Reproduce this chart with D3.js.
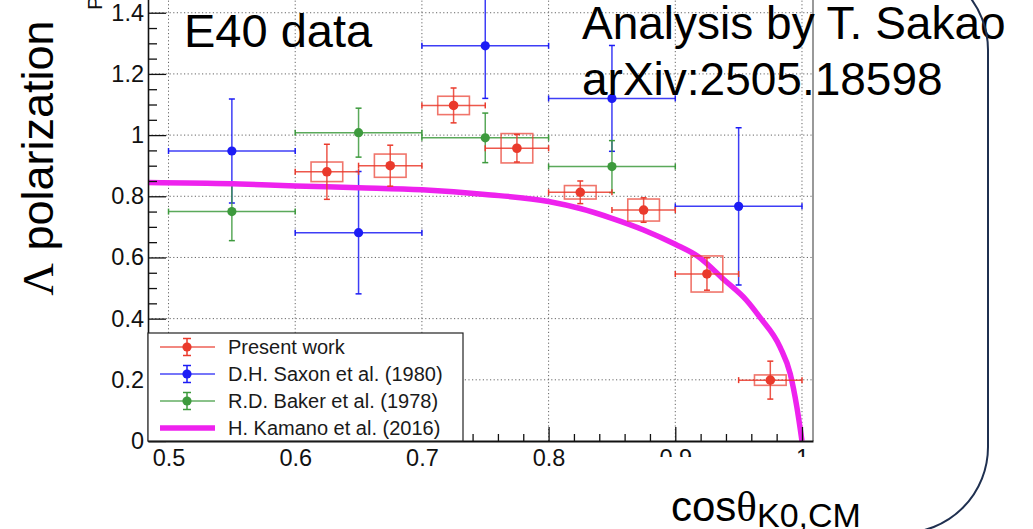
<!DOCTYPE html>
<html><head><meta charset="utf-8">
<script src="https://cdn.jsdelivr.net/npm/d3@7"></script>
<style>
html,body{margin:0;padding:0;background:#fff;}
svg{display:block;font-family:"Liberation Sans",Arial,Helvetica,sans-serif;}
</style></head>
<body>
<svg id="chart" width="1033" height="529"></svg>
<script>
// ---------- data ----------
const redX    = [0.625, 0.675, 0.725, 0.775, 0.825, 0.875, 0.925, 0.975];
const redY    = [0.880, 0.900, 1.097, 0.957, 0.813, 0.755, 0.546, 0.199];
const redStat = [0.090, 0.067, 0.057, 0.045, 0.037, 0.040, 0.053, 0.062];
const redSys  = [0.032, 0.038, 0.030, 0.048, 0.022, 0.036, 0.059, 0.017];
const redXErr = 0.025;
const redBoxHalf = 0.0125;

const blueX   = [0.55, 0.65, 0.75, 0.85, 0.95];
const blueY   = [0.948, 0.681, 1.292, 1.120, 0.767];
const blueErr = [0.170, 0.200, 0.172, 0.173, 0.257];
const blueXErr = 0.05;

const greenX   = [0.55, 0.65, 0.75, 0.85];
const greenY   = [0.750, 1.008, 0.991, 0.897];
const greenErr = [0.095, 0.080, 0.081, 0.085];
const greenXErr = 0.05;

const kamanoX = [0.4838, 0.55, 0.6, 0.65, 0.7, 0.75, 0.8, 0.825, 0.85, 0.875, 0.9, 0.918, 0.9385, 0.956, 0.9667, 0.9827, 0.9907, 0.996, 1.0];
const kamanoY = [0.845, 0.841, 0.834, 0.828, 0.821, 0.806, 0.783, 0.760, 0.728, 0.690, 0.643, 0.603, 0.527, 0.461, 0.405, 0.307, 0.220, 0.110, 0.0];

const xTickValues = [0.5, 0.6, 0.7, 0.8, 0.9, 1.0];
const xTickLabels = ["0.5", "0.6", "0.7", "0.8", "0.9", "1"];
const yTickValues = [0, 0.2, 0.4, 0.6, 0.8, 1.0, 1.2, 1.4];
const yTickLabels = ["0", "0.2", "0.4", "0.6", "0.8", "1", "1.2", "1.4"];

const legendLabels = ["Present work", "D.H. Saxon et al. (1980)", "R.D. Baker et al. (1978)", "H. Kamano et al. (2016)"];

// ---------- setup ----------
const svg = d3.select("#chart");
const L = 148, R = 813, B = 441, T = -3;
const x = d3.scaleLinear().domain([0.4838, 1.0087]).range([L, R]);
const y = d3.scaleLinear().domain([0, 1.45]).range([B, B - 1.45 * 305.9]);

const RED = "#ea3a2c", BLUE = "#1c1cf5", GREEN = "#3d9a3d", MAG = "#ee22ee";

// grid
const grid = svg.append("g").attr("stroke", "#666").attr("stroke-width", 1).attr("stroke-dasharray", "1.2,2.4");
grid.selectAll(".vg").data(xTickValues).join("line")
  .attr("x1", d => x(d)).attr("x2", d => x(d)).attr("y1", B).attr("y2", T);
grid.selectAll(".hg").data(yTickValues.filter(d => d > 0)).join("line")
  .attr("x1", L).attr("x2", R).attr("y1", d => y(d)).attr("y2", d => y(d));

// right frame
svg.append("line").attr("x1", R).attr("x2", R).attr("y1", B).attr("y2", T)
  .attr("stroke", "#777").attr("stroke-width", 1.5);

// ---------- data drawing ----------
function drawErrSeries(g, xs, ys, xerr, yerr, color, r) {
  const gg = g.append("g").attr("stroke", color).attr("stroke-width", 1.5);
  xs.forEach((cx, i) => {
    const cy = ys[i], ey = yerr[i];
    gg.append("line").attr("x1", x(cx - xerr)).attr("x2", x(cx + xerr)).attr("y1", y(cy)).attr("y2", y(cy)).attr("stroke-opacity", 0.85);
    gg.append("line").attr("x1", x(cx)).attr("x2", x(cx)).attr("y1", y(cy - ey)).attr("y2", y(cy + ey)).attr("stroke-opacity", 0.85);
    [cy - ey, cy + ey].forEach(v => gg.append("line").attr("x1", x(cx) - 3).attr("x2", x(cx) + 3).attr("y1", y(v)).attr("y2", y(v)));
    [cx - xerr, cx + xerr].forEach(v => gg.append("line").attr("x1", x(v)).attr("x2", x(v)).attr("y1", y(cy) - 3).attr("y2", y(cy) + 3));
  });
  g.append("g").selectAll("circle").data(xs).join("circle")
    .attr("cx", d => x(d)).attr("cy", (d, i) => y(ys[i])).attr("r", r).attr("fill", color);
}

const data = svg.append("g");
drawErrSeries(data, blueX, blueY, blueXErr, blueErr, BLUE, 4.6);
drawErrSeries(data, greenX, greenY, greenXErr, greenErr, GREEN, 4.6);

// Kamano curve
const line = d3.line().x(d => x(d[0])).y(d => y(d[1])).curve(d3.curveMonotoneX);
data.append("path").datum(kamanoX.map((v, i) => [v, kamanoY[i]]))
  .attr("d", line).attr("fill", "none").attr("stroke", MAG).attr("stroke-width", 5.5);

// red systematic boxes
data.append("g").selectAll("rect").data(redX).join("rect")
  .attr("x", d => x(d - redBoxHalf)).attr("width", d => x(d + redBoxHalf) - x(d - redBoxHalf))
  .attr("y", (d, i) => y(redY[i] + redSys[i])).attr("height", (d, i) => y(redY[i] - redSys[i]) - y(redY[i] + redSys[i]))
  .attr("fill", "none").attr("stroke", RED).attr("stroke-width", 1.6).attr("stroke-opacity", 0.7);
drawErrSeries(data, redX, redY, redXErr, redStat, RED, 4.8);

// ---------- axes ----------
const yAxis = svg.append("g").attr("transform", `translate(${L},0)`)
  .call(d3.axisLeft(y).tickValues(yTickValues).tickSize(-18).tickSizeOuter(0).tickPadding(4)
    .tickFormat((d, i) => yTickLabels[i]));
const yMinor = svg.append("g").attr("transform", `translate(${L},0)`)
  .call(d3.axisLeft(y).tickValues(d3.range(0, 29).map(i => i * 0.05).filter(v => Math.round(v * 100) % 20 !== 0))
    .tickSize(-9).tickSizeOuter(0).tickFormat(""));
yMinor.select(".domain").remove();
const xAxis = svg.append("g").attr("transform", `translate(0,${B})`)
  .call(d3.axisBottom(x).tickValues(xTickValues).tickSize(-14).tickSizeOuter(0).tickPadding(8)
    .tickFormat((d, i) => xTickLabels[i]));
const xMinor = svg.append("g").attr("transform", `translate(0,${B})`)
  .call(d3.axisBottom(x).tickValues(d3.range(0, 26).map(i => 0.5 + i * 0.02).filter((v, i) => i % 5 !== 0))
    .tickSize(-7).tickSizeOuter(0).tickFormat(""));
xMinor.select(".domain").remove();
[yAxis, xAxis, yMinor, xMinor].forEach(a => {
  a.selectAll("text").attr("font-family", "Liberation Sans, Arial, sans-serif").attr("font-size", 23.5).attr("fill", "#111");
  a.selectAll("line").attr("stroke", "#111").attr("stroke-width", 1.3);
});
yAxis.select(".domain").attr("stroke", "#111").attr("stroke-width", 1.6);
xAxis.select(".domain").attr("stroke", "#111").attr("stroke-width", 2);

// ---------- legend ----------
const lg = svg.append("g");
lg.append("rect").attr("x", L).attr("y", 333).attr("width", 315).attr("height", B - 333)
  .attr("fill", "#fff").attr("stroke", "#222").attr("stroke-width", 1.2);
const legendRows = [347, 374, 401, 428];
const legendColors = [RED, BLUE, GREEN, MAG];
legendLabels.forEach((lab, i) => {
  const cy = legendRows[i], c = legendColors[i];
  if (i < 3) {
    lg.append("line").attr("x1", 160).attr("x2", 215).attr("y1", cy).attr("y2", cy).attr("stroke", c).attr("stroke-width", 1.5).attr("stroke-opacity", 0.8);
    lg.append("line").attr("x1", 187).attr("x2", 187).attr("y1", cy - 8.5).attr("y2", cy + 8.5).attr("stroke", c).attr("stroke-width", 1.5);
    [cy - 8.5, cy + 8.5].forEach(v => lg.append("line").attr("x1", 183).attr("x2", 191).attr("y1", v).attr("y2", v).attr("stroke", c).attr("stroke-width", 1.5));
    lg.append("circle").attr("cx", 187).attr("cy", cy).attr("r", 4.6).attr("fill", c);
  } else {
    lg.append("line").attr("x1", 160).attr("x2", 215).attr("y1", cy).attr("y2", cy).attr("stroke", c).attr("stroke-width", 5.5);
  }
  lg.append("text").attr("x", 228).attr("y", cy + 7).attr("font-size", 20).attr("fill", "#1a1a1a").text(lab);
});

// ---------- titles / annotations ----------
// cover that hides the lower part of the last tick labels
svg.append("rect").attr("x", 620).attr("y", 457).attr("width", 360).attr("height", 80).attr("fill", "#fff");

svg.append("text").attr("transform", "translate(101.5,10) rotate(-90)").attr("font-size", 21).attr("fill", "#111").text("P");

const yt = svg.append("text").attr("transform", "translate(53,158) rotate(-90)")
  .attr("text-anchor", "middle").attr("font-size", 45).attr("fill", "#000");
yt.append("tspan").attr("font-family", "Liberation Serif, Times New Roman, serif").text("Λ");
yt.append("tspan").text(" polarization");

const xt = svg.append("text").attr("x", 671).attr("y", 521).attr("fill", "#000");
xt.append("tspan").attr("font-size", 42).text("cos");
xt.append("tspan").attr("font-size", 43).attr("font-family", "Liberation Serif, Times New Roman, serif").text("θ");
xt.append("tspan").attr("font-size", 34).attr("dy", 6).text("K0,CM");

svg.append("text").attr("x", 184).attr("y", 46.5).attr("font-size", 47).attr("fill", "#000").text("E40 data");
svg.append("text").attr("x", 582).attr("y", 38.5).attr("font-size", 46).attr("fill", "#000").text("Analysis by T. Sakao");
svg.append("text").attr("x", 582).attr("y", 95).attr("font-size", 46).attr("fill", "#000").text("arXiv:2505.18598");

// slide callout outline
svg.append("rect").attr("x", -300).attr("y", -36).attr("width", 988 + 300).attr("height", 569).attr("rx", 86).attr("ry", 86)
  .attr("fill", "none").attr("stroke", "#1f3050").attr("stroke-width", 2);
</script>
</body></html>
